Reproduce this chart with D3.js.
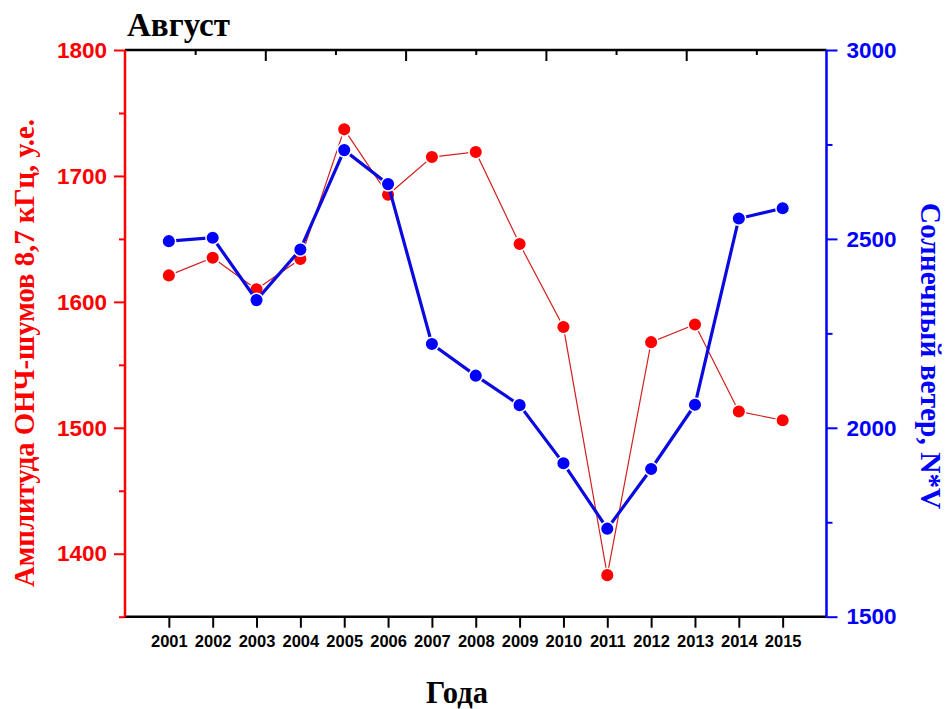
<!DOCTYPE html>
<html>
<head>
<meta charset="utf-8">
<script src="https://cdn.jsdelivr.net/npm/d3@7"></script>
<style>
  body { margin: 0; background: #fff; }
  svg { display: block; }
</style>
</head>
<body>
<div id="chart"></div>
<script>
// data
var years = [2001, 2002, 2003, 2004, 2005, 2006, 2007, 2008, 2009, 2010, 2011, 2012, 2013, 2014, 2015];
var vlfAmp = [1621, 1635, 1610, 1634, 1737, 1685, 1715, 1719, 1646, 1580, 1383, 1568, 1582, 1513, 1506];
var solarWind = [2494, 2503, 2338, 2472, 2735, 2645, 2222, 2138, 2060, 1906, 1733, 1891, 2061, 2554, 2581];
var leftTicks = [1400, 1500, 1600, 1700, 1800];
var leftMinor = [1350, 1450, 1550, 1650, 1750];
var rightTicks = [1500, 2000, 2500, 3000];
var rightMinor = [1750, 2250, 2750];

var W = 950, H = 709;
var x0 = 125, x1 = 826.5, yTop = 50, yBot = 616.7;
var red = "#ff0000", blue = "#0000ff";

var svg = d3.select("#chart").append("svg")
   .attr("width", W)
   .attr("height", H);

var x = d3.scaleLinear().domain([2000, 2016]).range([x0, x1]);
var yL = d3.scaleLinear().domain([1350, 1800]).range([yBot, yTop]);
var yR = d3.scaleLinear().domain([1500, 3000]).range([yBot, yTop]);
var xTop = d3.scaleLinear().domain([0, 1]).range([x0, x1]);

var tickFont = "'Liberation Sans', Arial, sans-serif";
var serif = "'Liberation Serif', 'Times New Roman', serif";

function styleAxis(g, color, fontSize) {
  g.select(".domain").remove();
  g.selectAll("line").attr("stroke", color).attr("stroke-width", 2);
  g.selectAll("text")
    .attr("fill", color)
    .attr("font-family", tickFont)
    .attr("font-weight", "bold")
    .attr("font-size", fontSize);
}

// top axis (mirror, ticks inward)
var gTopMinor = svg.append("g").attr("transform", "translate(0," + yTop + ")")
  .call(d3.axisTop(xTop).tickValues([0.1, 0.3, 0.5, 0.7, 0.9]).tickSize(-5).tickFormat(""));
styleAxis(gTopMinor, "#000", 10);
var gTop = svg.append("g").attr("transform", "translate(0," + yTop + ")")
  .call(d3.axisTop(xTop).tickValues([0.2, 0.4, 0.6, 0.8]).tickSize(-11).tickFormat(""));
styleAxis(gTop, "#000", 10);

// bottom axis
var gBot = svg.append("g").attr("transform", "translate(0," + yBot + ")")
  .call(d3.axisBottom(x).tickValues(years).tickFormat(d3.format("d")).tickSize(11).tickPadding(8));
styleAxis(gBot, "#000", 16.5);

// left axis
var gLeftMinor = svg.append("g").attr("transform", "translate(" + x0 + ",0)")
  .call(d3.axisLeft(yL).tickValues(leftMinor).tickSize(6).tickFormat(""));
styleAxis(gLeftMinor, red, 10);
var gLeft = svg.append("g").attr("transform", "translate(" + x0 + ",0)")
  .call(d3.axisLeft(yL).tickValues(leftTicks).tickSize(11).tickPadding(7).tickFormat(d3.format("d")));
styleAxis(gLeft, red, 22.5);

// right axis
var gRightMinor = svg.append("g").attr("transform", "translate(" + x1 + ",0)")
  .call(d3.axisRight(yR).tickValues(rightMinor).tickSize(6).tickFormat(""));
styleAxis(gRightMinor, blue, 10);
var gRight = svg.append("g").attr("transform", "translate(" + x1 + ",0)")
  .call(d3.axisRight(yR).tickValues(rightTicks).tickSize(11).tickPadding(9).tickFormat(d3.format("d")));
styleAxis(gRight, blue, 22.5);

// frame lines
svg.append("line").attr("x1", x0).attr("x2", x1).attr("y1", yTop).attr("y2", yTop)
  .attr("stroke", "#000").attr("stroke-width", 2.5);
svg.append("line").attr("x1", x0).attr("x2", x1).attr("y1", yBot).attr("y2", yBot)
  .attr("stroke", "#000").attr("stroke-width", 2.5);
svg.append("line").attr("x1", x0).attr("x2", x0).attr("y1", yTop).attr("y2", yBot)
  .attr("stroke", red).attr("stroke-width", 2.5);
svg.append("line").attr("x1", x1).attr("x2", x1).attr("y1", yTop).attr("y2", yBot)
  .attr("stroke", blue).attr("stroke-width", 2.5);

// red series
var redLine = d3.line().x(function(d, i){ return x(years[i]); }).y(function(d){ return yL(d); });
svg.append("path").datum(vlfAmp)
  .attr("d", redLine)
  .attr("fill", "none")
  .attr("stroke", "#d42020")
  .attr("stroke-width", 1.2);
svg.selectAll("circle.red").data(vlfAmp).enter().append("circle")
  .attr("class", "red")
  .attr("cx", function(d, i){ return x(years[i]); })
  .attr("cy", function(d){ return yL(d); })
  .attr("r", 6.8)
  .attr("fill", red)
  .attr("stroke", "#fff")
  .attr("stroke-width", 1.5);

// blue series
var blueLine = d3.line().x(function(d, i){ return x(years[i]); }).y(function(d){ return yR(d); });
svg.append("path").datum(solarWind)
  .attr("d", blueLine)
  .attr("fill", "none")
  .attr("stroke", "#0a0ae0")
  .attr("stroke-width", 3.2);
svg.selectAll("circle.blue").data(solarWind).enter().append("circle")
  .attr("class", "blue")
  .attr("cx", function(d, i){ return x(years[i]); })
  .attr("cy", function(d){ return yR(d); })
  .attr("r", 6.8)
  .attr("fill", blue)
  .attr("stroke", "#fff")
  .attr("stroke-width", 1.5);

// titles
svg.append("text")
  .attr("x", 127).attr("y", 36)
  .attr("font-family", serif).attr("font-weight", "bold").attr("font-size", 33)
  .attr("fill", "#000")
  .text("Август");

svg.append("text")
  .attr("x", 457).attr("y", 703)
  .attr("text-anchor", "middle")
  .attr("font-family", serif).attr("font-weight", "bold").attr("font-size", 30.5)
  .attr("fill", "#000")
  .text("Года");

svg.append("text")
  .attr("transform", "translate(34,353) rotate(-90)")
  .attr("text-anchor", "middle")
  .attr("font-family", serif).attr("font-weight", "bold").attr("font-size", 28.7)
  .attr("fill", red)
  .text("Амплитуда ОНЧ-шумов 8,7 кГц, у.е.");

svg.append("text")
  .attr("transform", "translate(921,356) rotate(90)")
  .attr("text-anchor", "middle")
  .attr("font-family", serif).attr("font-weight", "bold").attr("font-size", 29.4)
  .attr("fill", blue)
  .text("Солнечный ветер, N*V");
</script>
</body>
</html>
